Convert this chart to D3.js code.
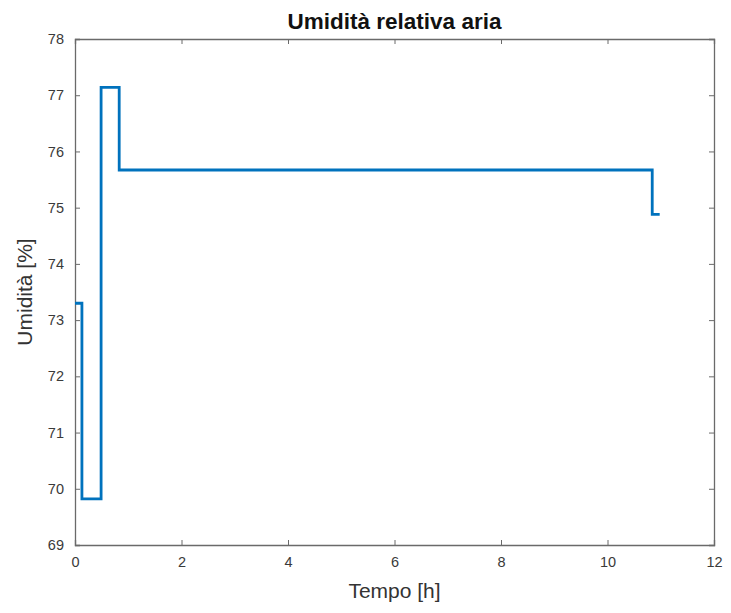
<!DOCTYPE html>
<html>
<head>
<meta charset="utf-8">
<script src="https://cdn.jsdelivr.net/npm/d3@7"></script>
<style>
  body { margin: 0; background: #fff; }
  svg { font-family: "Liberation Sans", Arial, sans-serif; }
</style>
</head>
<body>
<svg id="chart" width="731" height="613"></svg>
<script>
// step data (time in h, humidity in %)
const tempo = [0, 0.13, 0.49, 0.83, 10.84, 10.98];
const umidita = [73.3, 69.82, 77.14, 75.67, 74.88, 74.88];
const xTicks = [0, 2, 4, 6, 8, 10, 12];
const yTicks = [69, 70, 71, 72, 73, 74, 75, 76, 77, 78];

const svg = d3.select("#chart");
const margin = {left: 75, right: 17, top: 39, bottom: 68};
const width = 731, height = 613;

const x = d3.scaleLinear().domain([0, 12]).range([margin.left, width - margin.right]);
const y = d3.scaleLinear().domain([69, 78]).range([height - margin.bottom, margin.top]);

const axisColor = "#6a6a6a";

// axes with inward ticks, box on all sides
const xb = svg.append("g").attr("transform", `translate(0,${y(69)})`)
    .call(d3.axisBottom(x).tickValues(xTicks).tickSize(-5).tickPadding(12));
const xt = svg.append("g").attr("transform", `translate(0,${y(78)})`)
    .call(d3.axisTop(x).tickValues(xTicks).tickSize(-5).tickFormat(""));
const yl = svg.append("g").attr("transform", `translate(${x(0)},0)`)
    .call(d3.axisLeft(y).tickValues(yTicks).tickSize(-5).tickPadding(11));
const yr = svg.append("g").attr("transform", `translate(${x(12)},0)`)
    .call(d3.axisRight(y).tickValues(yTicks).tickSize(-5).tickFormat(""));

[xb, xt, yl, yr].forEach(g => {
    g.selectAll("path").attr("stroke", axisColor).attr("stroke-width", 1.3);
    g.selectAll("line").attr("stroke", axisColor);
    g.selectAll("text").attr("fill", "#3a3a3a").style("font-size", "14.5px");
});

const points = tempo.map((t, i) => [t, umidita[i]]);
const line = d3.line()
    .x(d => x(d[0]))
    .y(d => y(d[1]))
    .curve(d3.curveStepAfter);

svg.append("path")
    .datum(points)
    .attr("fill", "none")
    .attr("stroke", "#0072BD")
    .attr("stroke-width", 2.8)
    .attr("d", line);

svg.append("text")
    .attr("x", (x(0) + x(12)) / 2)
    .attr("y", 29)
    .attr("text-anchor", "middle")
    .style("font-size", "22.5px")
    .style("font-weight", "bold")
    .attr("fill", "#111")
    .text("Umidità relativa aria");

svg.append("text")
    .attr("x", (x(0) + x(12)) / 2)
    .attr("y", 598)
    .attr("text-anchor", "middle")
    .style("font-size", "21px")
    .attr("fill", "#333")
    .text("Tempo [h]");

svg.append("text")
    .attr("transform", `translate(32,${(y(69) + y(78)) / 2}) rotate(-90)`)
    .attr("text-anchor", "middle")
    .style("font-size", "21px")
    .attr("fill", "#333")
    .text("Umidità [%]");
</script>
</body>
</html>
